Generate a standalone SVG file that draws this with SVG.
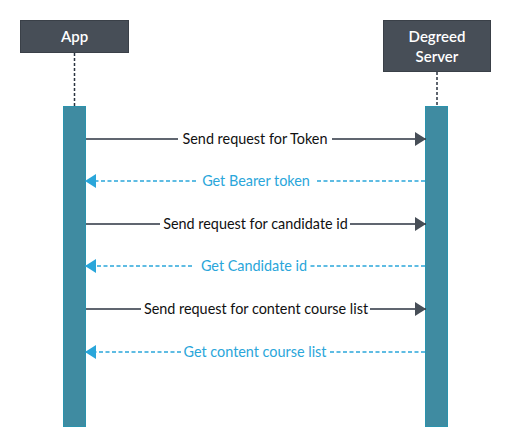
<svg xmlns="http://www.w3.org/2000/svg" width="512" height="448" viewBox="0 0 512 448">
<style>
.box{fill:#474e57;stroke:#3a4048;stroke-width:1}
.hd{font-family:Lato,"Noto Sans",sans-serif;font-size:15px;font-weight:600;fill:#ffffff;text-anchor:middle}
.life{stroke:#2a3340;stroke-width:1.5;stroke-dasharray:3,2;fill:none}
.bar{fill:#3f8ba1;stroke:#2b93ad;stroke-width:1}
.req{stroke:#2b3340;stroke-width:1.5;fill:none}
.rep{stroke:#2aa6da;stroke-width:1.5;stroke-dasharray:4,2.5;fill:none}
.lbl{font-family:Lato,"Noto Sans",sans-serif;font-size:14.4px;text-anchor:middle}
.lk{fill:#111111}
.lb{fill:#2aa6da}
</style>
<defs>
<marker id="ah" markerWidth="11" markerHeight="14" refX="11" refY="7" orient="auto" markerUnits="userSpaceOnUse">
<path d="M0,0 L11,7 L0,14 Z" fill="#474e57"/>
</marker>
<marker id="ab" markerWidth="11" markerHeight="14" refX="11" refY="7" orient="auto" markerUnits="userSpaceOnUse">
<path d="M0,0 L11,7 L0,14 Z" fill="#2aa6da"/>
</marker>
</defs>
<g id="app">
<rect class="box" x="20.5" y="20.5" width="108" height="32"/>
<text class="hd" x="74.5" y="41.5">App</text>
<line class="life" x1="74.5" y1="53" x2="74.5" y2="106"/>
<rect class="bar" x="63.5" y="106.5" width="22" height="320"/>
</g>
<g id="server">
<rect class="box" x="383.5" y="20.5" width="107" height="51"/>
<text class="hd" x="437" y="42">Degreed</text>
<text class="hd" x="437" y="62">Server</text>
<line class="life" x1="437" y1="72" x2="437" y2="106"/>
<rect class="bar" x="425.5" y="106.5" width="22" height="320"/>
</g>
<g id="connectors">
<line class="req" x1="86" y1="139" x2="178" y2="139"/>
<line class="req" x1="332" y1="139" x2="426" y2="139" marker-end="url(#ah)"/>
<text class="lbl lk" x="255" y="144">Send request for Token</text>

<line class="rep" x1="425" y1="181" x2="315" y2="181"/>
<line class="rep" x1="196" y1="181" x2="85" y2="181" marker-end="url(#ab)"/>
<text class="lbl lb" x="256" y="186">Get Bearer token</text>

<line class="req" x1="86" y1="224" x2="160" y2="224"/>
<line class="req" x1="350" y1="224" x2="426" y2="224" marker-end="url(#ah)"/>
<text class="lbl lk" x="255.5" y="229">Send request for candidate id</text>

<line class="rep" x1="425" y1="266" x2="309" y2="266"/>
<line class="rep" x1="192" y1="266" x2="85" y2="266" marker-end="url(#ab)"/>
<text class="lbl lb" x="254" y="271">Get Candidate id</text>

<line class="req" x1="86" y1="309" x2="141" y2="309"/>
<line class="req" x1="370" y1="309" x2="426" y2="309" marker-end="url(#ah)"/>
<text class="lbl lk" x="256" y="314">Send request for content course list</text>

<line class="rep" x1="425" y1="352" x2="329" y2="352"/>
<line class="rep" x1="181" y1="352" x2="85" y2="352" marker-end="url(#ab)"/>
<text class="lbl lb" x="255" y="357">Get content course list</text>
</g>
</svg>
